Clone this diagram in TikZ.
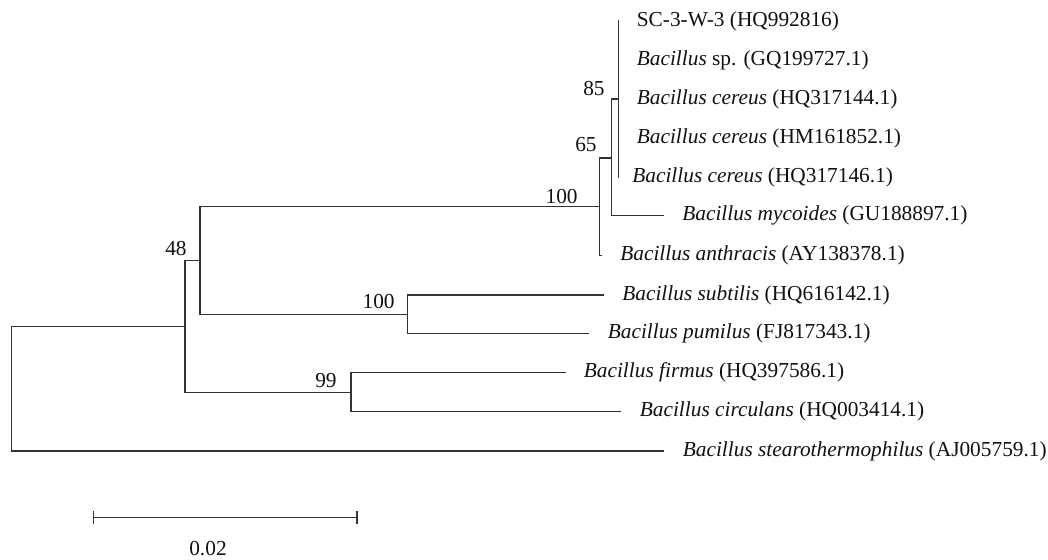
\documentclass[tikz,border=0pt]{standalone}
\usepackage{fontspec}
\setmainfont{Liberation Serif}
\usepackage{tikz}
\usetikzlibrary{arrows.meta}
\definecolor{TreeLine}{HTML}{333333}
\definecolor{TreeText}{HTML}{111111}

\begin{document}
\begin{tikzpicture}[x=0.02cm,y=-0.02cm,
    branch/.style={TreeLine,line width=0.75pt},
    taxon/.style={anchor=west,inner sep=0pt,text=TreeText,font=\fontsize{12.15}{14}\selectfont},
    boot/.style={anchor=base east,inner sep=0pt,text=TreeText,font=\fontsize{12.15}{14}\selectfont}]
  \useasboundingbox (0,0) rectangle (1048,559);
  \coordinate (tSC) at (619.3,21);
  \coordinate (tSp) at (619.3,60);
  \coordinate (tCerA) at (619.3,99);
  \coordinate (tCerB) at (619.3,138);
  \coordinate (tCerC) at (619.3,177.5);
  \coordinate (tMyc) at (664,215.7);
  \coordinate (tAnt) at (601.5,255.7);
  \coordinate (tSub) at (604,295);
  \coordinate (tPum) at (589.3,333.3);
  \coordinate (tFir) at (565.7,372.7);
  \coordinate (tCir) at (620.7,411.7);
  \coordinate (tSte) at (664,451);
  \coordinate (nRoot) at (11.7,388);
  \coordinate (nA) at (185,326.3);
  \coordinate (nB) at (200,260.7);
  \coordinate (nC) at (351,392.3);
  \coordinate (nD) at (599.3,206.7);
  \coordinate (nE) at (407.3,314.3);
  \coordinate (nF) at (611.7,158);
  \coordinate (nG) at (618.3,99);
  \draw[branch] (nA) -| (nRoot) |- (tSte);
  \draw[branch] (nB) -| (nA) |- (nC);
  \draw[branch] (nD) -| (nB) |- (nE);
  \draw[branch] (tSub) -| (nE) |- (tPum);
  \draw[branch] (tFir) -| (nC) |- (tCir);
  \draw[branch] (nF) -| (nD) |- (tAnt);
  \draw[branch] (nG) -| (nF) |- (tMyc);
  \draw[branch] (tSC) -| (nG) |- (tCerC);
  \draw[branch] (nG) |- (tSp);
  \draw[branch] (nG) |- (tCerB);
  \node[taxon] (lSC) at (636.5,21) {SC-3-W-3 (HQ992816)};
  \node[taxon] (lSp) at (636.5,60) {\textit{Bacillus} sp. (GQ199727.1)};
  \node[taxon] (lCerA) at (636.5,99) {\textit{Bacillus cereus} (HQ317144.1)};
  \node[taxon] (lCerB) at (636.5,138) {\textit{Bacillus cereus} (HM161852.1)};
  \node[taxon] (lCerC) at (632,177.5) {\textit{Bacillus cereus} (HQ317146.1)};
  \node[taxon] (lMyc) at (682,215.7) {\textit{Bacillus mycoides} (GU188897.1)};
  \node[taxon] (lAnt) at (620,255.7) {\textit{Bacillus anthracis} (AY138378.1)};
  \node[taxon] (lSub) at (622,295) {\textit{Bacillus subtilis} (HQ616142.1)};
  \node[taxon] (lPum) at (607.5,333.3) {\textit{Bacillus pumilus} (FJ817343.1)};
  \node[taxon] (lFir) at (583.5,372.7) {\textit{Bacillus firmus} (HQ397586.1)};
  \node[taxon] (lCir) at (639.5,411.7) {\textit{Bacillus circulans} (HQ003414.1)};
  \node[taxon] (lSte) at (682.5,451) {\textit{Bacillus stearothermophilus} (AJ005759.1)};
  \node[boot] (bG) at (605,95) {85};
  \node[boot] (bF) at (597,151) {65};
  \node[boot] (bD) at (578,203) {100};
  \node[boot] (bB) at (187,255) {48};
  \node[boot] (bE) at (395,308) {100};
  \node[boot] (bC) at (337,387) {99};
  \coordinate (sL) at (92.7,517.7);
  \coordinate (sR) at (357.7,517.7);
  \draw[branch,{Bar[width=0.25cm]}-{Bar[width=0.25cm]}] (sL) -- (sR);
  \node[boot,anchor=base] (lScale) at (208,555) {0.02};
\end{tikzpicture}
\end{document}
